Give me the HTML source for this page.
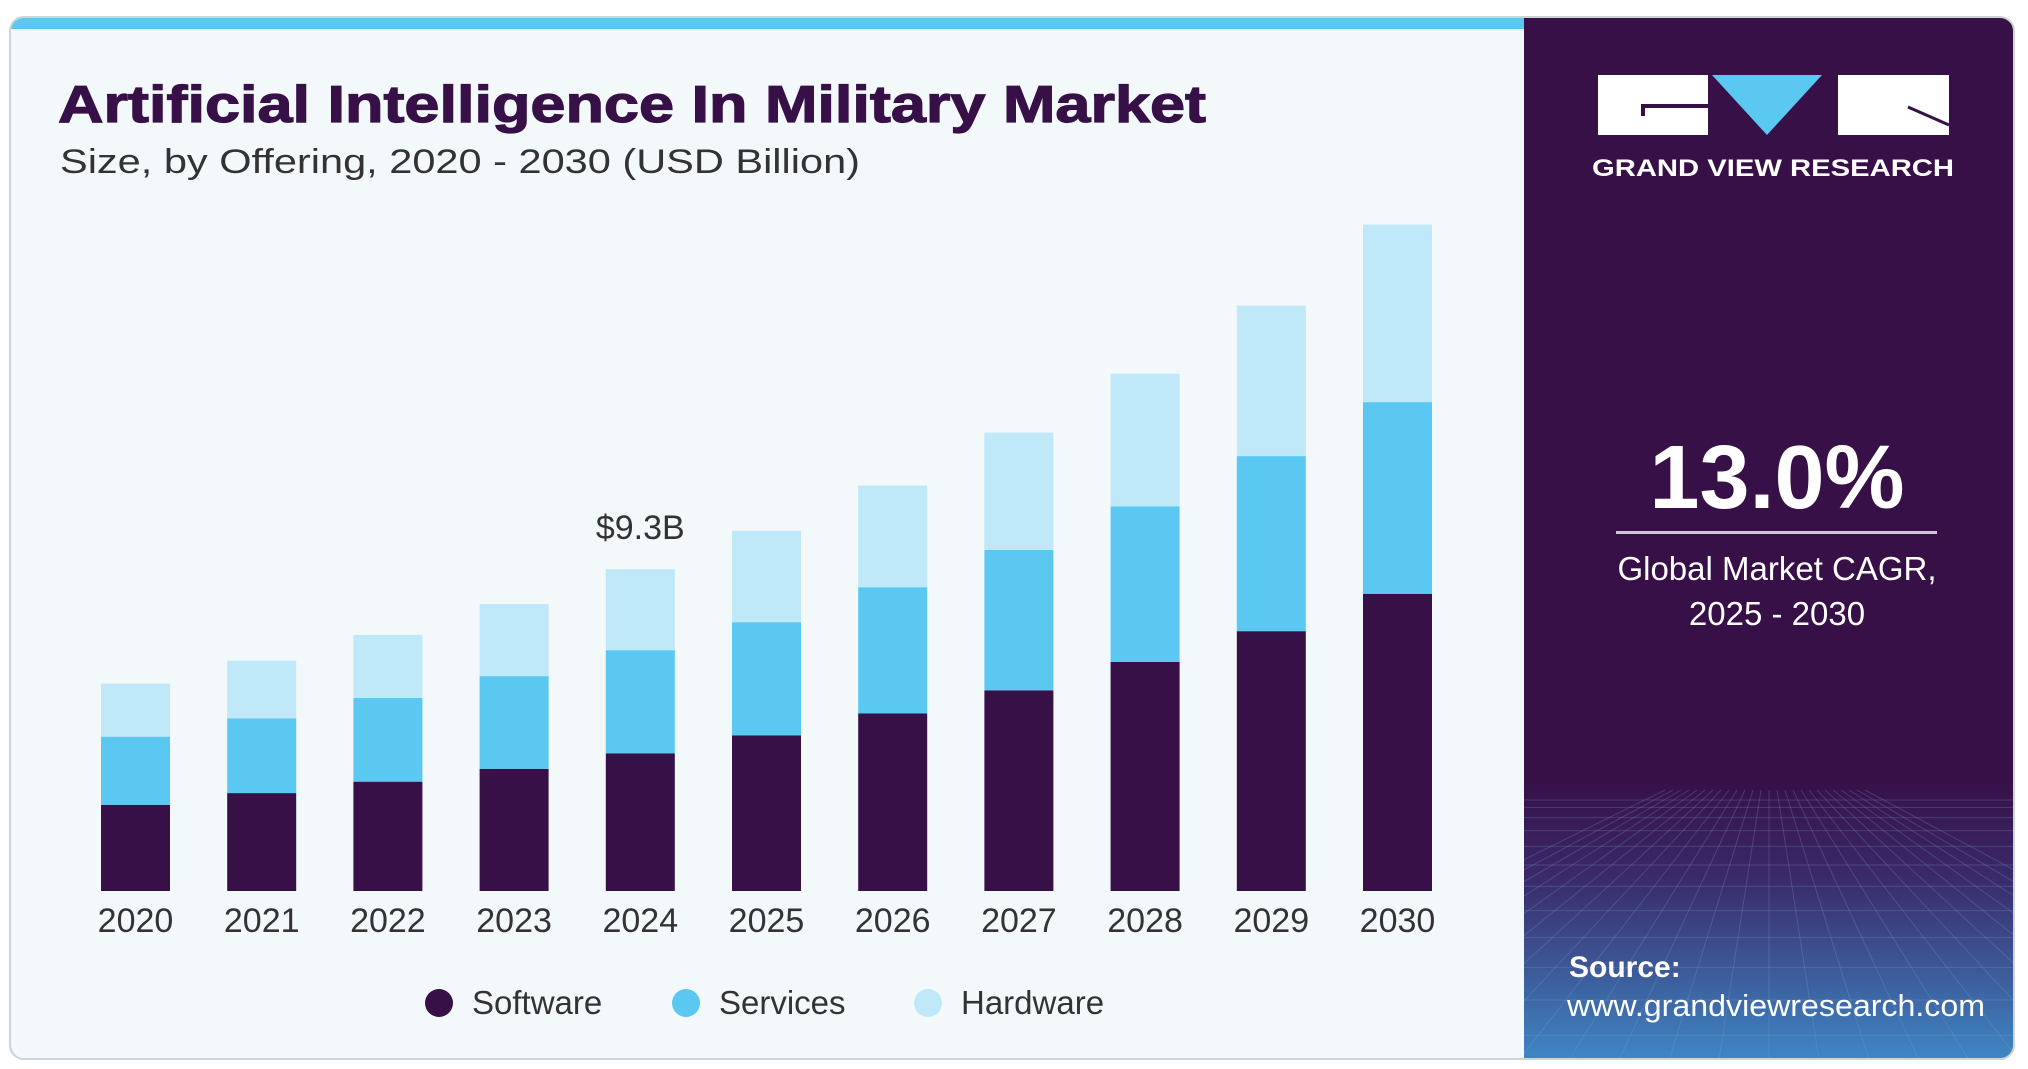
<!DOCTYPE html>
<html><head><meta charset="utf-8"><style>
html,body{margin:0;padding:0;background:#fff;width:2028px;height:1069px;overflow:hidden}
svg{display:block}
text{font-family:"Liberation Sans",Arial,sans-serif}
</style></head><body>
<svg id="chart" width="2028" height="1069" viewBox="0 0 2028 1069">
<defs>
<linearGradient id="btm" x1="0" y1="0" x2="0" y2="1">
<stop offset="0" stop-color="#371047"/>
<stop offset="0.35" stop-color="#3a2a6a"/>
<stop offset="1" stop-color="#3f86c4"/>
</linearGradient>
<clipPath id="cardclip"><rect x="10" y="17" width="2004" height="1042" rx="14"/></clipPath>
<clipPath id="panelclip"><rect x="1524" y="780" width="490" height="279"/></clipPath>
</defs>
<g clip-path="url(#cardclip)">
<rect x="10" y="17" width="2004" height="1042" fill="#f3f8fb"/>
<rect x="10" y="17" width="1524" height="12" fill="#5bc8f2"/>
<rect x="1524" y="17" width="490" height="1042" fill="#371047"/>
<rect x="1524" y="780" width="490" height="279" fill="url(#btm)"/>
<g stroke="#7fa7d8" stroke-opacity="0.25" stroke-width="1" id="grid" clip-path="url(#panelclip)"></g>
</g>
<rect x="10" y="17" width="2004" height="1042" rx="14" fill="none" stroke="#cfd3d6" stroke-width="2"/>

<text x="58" y="122" font-size="52" font-weight="bold" fill="#371047" stroke="#371047" stroke-width="1.2" textLength="1148" lengthAdjust="spacingAndGlyphs">Artificial Intelligence In Military Market</text>
<text x="60" y="173" font-size="34" fill="#333" textLength="800" lengthAdjust="spacingAndGlyphs">Size, by Offering, 2020 - 2030 (USD Billion)</text>

<g id="bars"></g>
<g id="xlabels"></g>
<text id="callout" font-size="34" fill="#333" text-anchor="middle">$9.3B</text>

<g>
<circle cx="439" cy="1003" r="14" fill="#371047"/>
<text x="472" y="1014" font-size="33" fill="#333">Software</text>
<circle cx="686" cy="1003" r="14" fill="#5bc8f2"/>
<text x="719" y="1014" font-size="33" fill="#333">Services</text>
<circle cx="928" cy="1003" r="14" fill="#bfe8f8"/>
<text x="961" y="1014" font-size="33" fill="#333">Hardware</text>
</g>

<g>
<rect x="1598" y="75" width="110" height="60" fill="#fff"/>
<rect x="1641" y="104" width="67" height="4" fill="#371047"/>
<rect x="1641" y="104" width="4" height="12" fill="#371047"/>
<polygon points="1712,75 1822,75 1767,135" fill="#5bc8f2"/>
<rect x="1838" y="75" width="111" height="60" fill="#fff"/>
<line x1="1908" y1="107" x2="1949" y2="125" stroke="#371047" stroke-width="3"/>
<text x="1773" y="176" font-size="24" font-weight="bold" fill="#fff" text-anchor="middle" textLength="362" lengthAdjust="spacingAndGlyphs">GRAND VIEW RESEARCH</text>
</g>
<text x="1777" y="508" font-size="90" font-weight="bold" fill="#fff" text-anchor="middle">13.0%</text>
<rect x="1616" y="531" width="321" height="3" fill="#d0c8d8"/>
<text x="1777" y="580" font-size="33" fill="#fff" text-anchor="middle">Global Market CAGR,</text>
<text x="1777" y="625" font-size="33" fill="#fff" text-anchor="middle">2025 - 2030</text>
<text x="1569" y="977" font-size="30" font-weight="bold" fill="#fff">Source:</text>
<text x="1567" y="1016" font-size="31" fill="#fff" textLength="418" lengthAdjust="spacingAndGlyphs">www.grandviewresearch.com</text>
</svg>
<script>
const years = ["2020","2021","2022","2023","2024","2025","2026","2027","2028","2029","2030"];
const software = [2.49,2.83,3.16,3.53,3.98,4.50,5.13,5.80,6.62,7.51,8.59];
const services = [1.97,2.16,2.42,2.68,2.98,3.27,3.65,4.06,4.50,5.06,5.54];
const hardware = [1.53,1.67,1.82,2.08,2.34,2.64,2.94,3.39,3.83,4.35,5.13];
const calloutIndex = 4;

const NS = "http://www.w3.org/2000/svg";
const baseY = 891, pxPerUnit = 34.6, x0 = 101, step = 126.2, barW = 69;
const xPos = i => x0 + i * step;
const yPos = v => baseY - v * pxPerUnit;
const barsG = document.getElementById('bars');
const labG = document.getElementById('xlabels');
const series = [[software,"#371047","software"],[services,"#5bc8f2","services"],[hardware,"#bfe8f8","hardware"]];
years.forEach((yr, i) => {
  let cum = 0;
  series.forEach(([arr, col, nm]) => {
    const r = document.createElementNS(NS, 'rect');
    r.setAttribute('x', xPos(i));
    r.setAttribute('width', barW);
    r.setAttribute('y', yPos(cum + arr[i]));
    r.setAttribute('height', arr[i] * pxPerUnit);
    r.setAttribute('fill', col);
    
    
    barsG.appendChild(r);
    cum += arr[i];
  });
  const t = document.createElementNS(NS, 'text');
  t.setAttribute('x', xPos(i) + barW / 2);
  t.setAttribute('y', 932);
  t.setAttribute('font-size', '34');
  t.setAttribute('fill', '#333');
  t.setAttribute('text-anchor', 'middle');
  t.textContent = yr;
  
  
  labG.appendChild(t);
});
const tot = software[calloutIndex] + services[calloutIndex] + hardware[calloutIndex];
const c = document.getElementById('callout');
c.setAttribute('x', xPos(calloutIndex) + barW / 2);
c.setAttribute('y', yPos(tot) - 30);
const g = document.getElementById('grid');
for (let k = 0; k < 14; k++) {
  const l = document.createElementNS(NS, 'line');
  l.setAttribute('x1', 1524); l.setAttribute('x2', 2014);
  const yy = 800 + k * k * 1.4 + k * 6;
  l.setAttribute('y1', yy); l.setAttribute('y2', yy);
  g.appendChild(l);
}
for (let k = 0; k < 26; k++) {
  const l = document.createElementNS(NS, 'line');
  l.setAttribute('x1', 1769 + (k - 13) * 8); l.setAttribute('y1', 790);
  l.setAttribute('x2', 1769 + (k - 13) * 50); l.setAttribute('y2', 1060);
  g.appendChild(l);
}
</script>
</body></html>
